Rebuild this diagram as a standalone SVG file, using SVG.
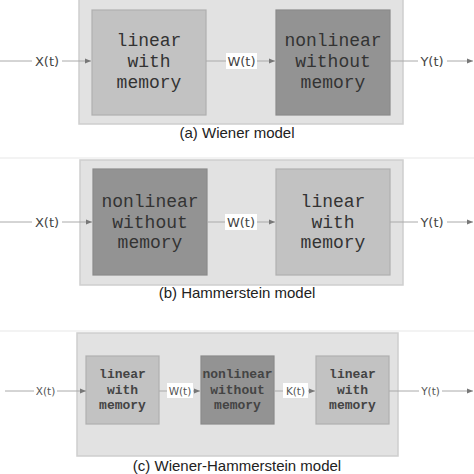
<svg xmlns="http://www.w3.org/2000/svg" width="474" height="474" viewBox="0 0 474 474">
<defs>
<marker id="ah" viewBox="0 0 10 10" refX="10" refY="5" markerWidth="6" markerHeight="6" orient="auto" markerUnits="userSpaceOnUse">
<path d="M0,1 L10,5 L0,9 z" fill="#777"/>
</marker>
<style>
.bg{fill:#ffffff}
.sep{stroke:#efefef;stroke-width:1.5}
.cont{fill:#e2e2e2;stroke:#cecece;stroke-width:1.5}
.lt{fill:#c2c2c2;stroke:#b0b0b0;stroke-width:1.2}
.dk{fill:#939393;stroke:#8a8a8a;stroke-width:1.2}
.ln{stroke:#aaaaaa;stroke-width:1;fill:none}
.bt{font-family:"Liberation Mono","Courier New",monospace;font-size:18px;fill:#333;text-anchor:middle}
.bs{font-family:"Liberation Mono","Courier New",monospace;font-size:13px;font-weight:bold;fill:#444;text-anchor:middle}
.lb{font-family:"DejaVu Sans",Verdana,sans-serif;font-size:13px;fill:#444;text-anchor:middle}
.ls{font-family:"DejaVu Sans",Verdana,sans-serif;font-size:10.5px;fill:#555;text-anchor:middle}
.cap{font-family:"Liberation Sans",Arial,sans-serif;font-size:15px;fill:#222;text-anchor:middle}
.wb{fill:#ffffff}
</style>
</defs>
<rect class="bg" x="0" y="0" width="474" height="474"/>
<line class="sep" x1="0" y1="158" x2="474" y2="158"/>
<line class="sep" x1="0" y1="331" x2="474" y2="331"/>

<!-- Panel (a) -->
<g id="panelA">
<rect class="cont" x="79" y="-4" width="324" height="128"/>
<text class="cap" x="237" y="138">(a) Wiener model</text>
</g>
<g id="a-lin">
<rect class="lt" x="92" y="10" width="114" height="105"/>
<text class="bt" x="149" y="46">linear</text>
<text class="bt" x="149" y="67">with</text>
<text class="bt" x="149" y="88">memory</text>
</g>
<g id="a-nl">
<rect class="dk" x="276" y="10" width="114" height="105"/>
<text class="bt" x="333" y="46">nonlinear</text>
<text class="bt" x="333" y="67">without</text>
<text class="bt" x="333" y="88">memory</text>
</g>

<!-- Panel (b) -->
<g id="panelB">
<rect class="cont" x="80" y="160" width="323" height="125"/>
<text class="cap" x="237" y="298">(b) Hammerstein model</text>
</g>
<g id="b-nl">
<rect class="dk" x="93" y="169" width="114" height="106"/>
<text class="bt" x="150" y="207">nonlinear</text>
<text class="bt" x="150" y="228">without</text>
<text class="bt" x="150" y="248">memory</text>
</g>
<g id="b-lin">
<rect class="lt" x="276" y="169" width="114" height="106"/>
<text class="bt" x="333" y="207">linear</text>
<text class="bt" x="333" y="228">with</text>
<text class="bt" x="333" y="248">memory</text>
</g>

<!-- Panel (c) -->
<g id="panelC">
<rect class="cont" x="77" y="333" width="321" height="123"/>
<text class="cap" x="237" y="471">(c) Wiener-Hammerstein model</text>
</g>
<g id="c-lin1">
<rect class="lt" x="86" y="356" width="73" height="68"/>
<text class="bs" x="122.5" y="378">linear</text>
<text class="bs" x="122.5" y="394">with</text>
<text class="bs" x="122.5" y="409">memory</text>
</g>
<g id="c-nl">
<rect class="dk" x="201" y="356" width="73" height="68"/>
<text class="bs" x="237.5" y="378">nonlinear</text>
<text class="bs" x="237.5" y="394">without</text>
<text class="bs" x="237.5" y="409">memory</text>
</g>
<g id="c-lin2">
<rect class="lt" x="316" y="356" width="73" height="68"/>
<text class="bs" x="352.5" y="378">linear</text>
<text class="bs" x="352.5" y="394">with</text>
<text class="bs" x="352.5" y="409">memory</text>
</g>

<g id="connectors">
<!-- (a) -->
<line class="ln" x1="0" y1="61" x2="91" y2="61" marker-end="url(#ah)"/>
<line class="ln" x1="206" y1="61" x2="275" y2="61" marker-end="url(#ah)"/>
<line class="ln" x1="390" y1="61" x2="473" y2="61" marker-end="url(#ah)"/>
<rect class="bg" x="32" y="53" width="30" height="16"/>
<text class="lb" x="47" y="66">X(t)</text>
<rect class="wb" x="226" y="53" width="31" height="16"/>
<text class="lb" x="241.5" y="66">W(t)</text>
<rect class="bg" x="418" y="53" width="29" height="16"/>
<text class="lb" x="432" y="66">Y(t)</text>
<!-- (b) -->
<line class="ln" x1="0" y1="222" x2="92" y2="222" marker-end="url(#ah)"/>
<line class="ln" x1="207" y1="222" x2="275" y2="222" marker-end="url(#ah)"/>
<line class="ln" x1="390" y1="222" x2="473" y2="222" marker-end="url(#ah)"/>
<rect class="bg" x="32" y="214" width="30" height="16"/>
<text class="lb" x="47" y="227">X(t)</text>
<rect class="wb" x="225" y="214" width="32" height="16"/>
<text class="lb" x="241" y="227">W(t)</text>
<rect class="bg" x="418" y="214" width="29" height="16"/>
<text class="lb" x="432" y="227">Y(t)</text>
<!-- (c) -->
<line class="ln" x1="5" y1="391" x2="86" y2="391" marker-end="url(#ah)"/>
<line class="ln" x1="159" y1="391" x2="200" y2="391" marker-end="url(#ah)"/>
<line class="ln" x1="274" y1="391" x2="315" y2="391" marker-end="url(#ah)"/>
<line class="ln" x1="389" y1="391" x2="473" y2="391" marker-end="url(#ah)"/>
<rect class="bg" x="34" y="384" width="23" height="14"/>
<text class="ls" x="45.5" y="395">X(t)</text>
<rect class="wb" x="167" y="383" width="26" height="15"/>
<text class="ls" x="180" y="395">W(t)</text>
<rect class="wb" x="283" y="383" width="25" height="15"/>
<text class="ls" x="295.5" y="395">K(t)</text>
<rect class="bg" x="419" y="384" width="23" height="14"/>
<text class="ls" x="430.5" y="395">Y(t)</text>
</g>
</svg>
